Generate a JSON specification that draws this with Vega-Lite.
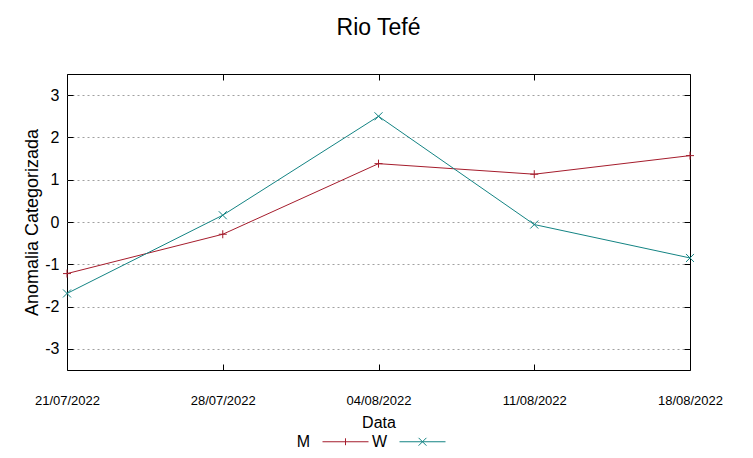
{
  "$schema": "https://vega.github.io/schema/vega-lite/v6.json",
  "width": 623,
  "height": 296,
  "autosize": {"type": "none"},
  "padding": {"left": 67, "top": 74, "right": 63, "bottom": 88},
  "title": {"text": "Rio Tefé", "fontSize": 23, "font": "Liberation Sans", "fontWeight": "normal", "color": "#000", "frame": "group", "baseline": "alphabetic", "offset": 16},
  "config": {"view": {"stroke": "#000", "strokeWidth": 1}, "font": "Liberation Sans"},
  "data": {"values": [
    {"date": "21/07/2022", "series": "M", "value": -1.22},
    {"date": "28/07/2022", "series": "M", "value": -0.29},
    {"date": "04/08/2022", "series": "M", "value": 1.38},
    {"date": "11/08/2022", "series": "M", "value": 1.13},
    {"date": "18/08/2022", "series": "M", "value": 1.57},
    {"date": "21/07/2022", "series": "W", "value": -1.69},
    {"date": "28/07/2022", "series": "W", "value": 0.16},
    {"date": "04/08/2022", "series": "W", "value": 2.50},
    {"date": "11/08/2022", "series": "W", "value": -0.06},
    {"date": "18/08/2022", "series": "W", "value": -0.85}
  ]},
  "encoding": {
    "color": {
      "field": "series", "type": "nominal",
      "scale": {"domain": ["M", "W"], "range": ["#a51c2c", "#138383"]},
      "legend": {
        "orient": "none", "legendX": 255, "legendY": 344, "direction": "horizontal", "title": null,
        "labelFontSize": 16, "labelColor": "#000", "labelAlign": "right", "labelOffset": -59,
        "columnPadding": 0, "symbolStrokeWidth": 1, "symbolSize": 2116,
        "encode": {"symbols": {"update": {"shape": {"signal": "datum.value === 'M' ? 'M-1,0L1,0M0,-0.15L0,0.15' : 'M-1,0L1,0M-0.17,-0.17L0.17,0.17M-0.17,0.17L0.17,-0.17'"}}}}
      }
    }
  },
  "layer": [
    {
      "mark": {"type": "line", "strokeWidth": 1},
      "encoding": {
        "x": {"field": "date", "type": "ordinal", "sort": null, "scale": {"type": "point", "padding": 0},
              "axis": {"title": "Data", "titleFontSize": 16, "titleFontWeight": "normal", "titleColor": "#000", "titlePadding": 7,
                       "labelFontSize": 13, "labelColor": "#000", "labelAngle": 0, "labelPadding": 30, "domain": false,
                       "ticks": true, "tickSize": -6, "tickColor": "#000", "grid": false}},
        "y": {"field": "value", "type": "quantitative", "scale": {"domain": [-3.5, 3.5], "nice": false, "zero": false},
              "axis": {"title": "Anomalia Categorizada", "titleFontSize": 18, "titleFontWeight": "normal", "titleColor": "#000", "titlePadding": 3,
                       "values": [-3, -2, -1, 0, 1, 2, 3], "labelExpr": "toString(datum.value)", "labelFontSize": 16, "labelColor": "#000", "labelPadding": 14, "domain": false,
                       "ticks": true, "tickSize": -6, "tickColor": "#000",
                       "grid": true, "gridColor": "#a0a0a0", "gridDash": [2, 3], "gridWidth": 1}}
      }
    },
    {
      "transform": [{"filter": "datum.series === 'M'"}],
      "mark": {"type": "point", "filled": false, "strokeWidth": 1, "opacity": 1, "size": 64, "shape": "M-1,0L1,0M0,-1L0,1"},
      "encoding": {
        "x": {"field": "date", "type": "ordinal", "sort": null,
              "axis": {"orient": "top", "title": null, "labels": false, "domain": false, "ticks": true, "tickSize": -6, "tickColor": "#000", "grid": false}},
        "y": {"field": "value", "type": "quantitative",
              "axis": {"orient": "right", "title": null, "labels": false, "domain": false, "values": [-3, -2, -1, 0, 1, 2, 3], "ticks": true, "tickSize": -6, "tickColor": "#000", "grid": false}}
      }
    },
    {
      "transform": [{"filter": "datum.series === 'W'"}],
      "mark": {"type": "point", "filled": false, "strokeWidth": 1, "opacity": 1, "size": 64, "shape": "M-1,-1L1,1M-1,1L1,-1"},
      "encoding": {
        "x": {"field": "date", "type": "ordinal", "sort": null, "axis": null},
        "y": {"field": "value", "type": "quantitative", "axis": null}
      }
    }
  ],
  "resolve": {"axis": {"x": "independent", "y": "independent"}}
}
